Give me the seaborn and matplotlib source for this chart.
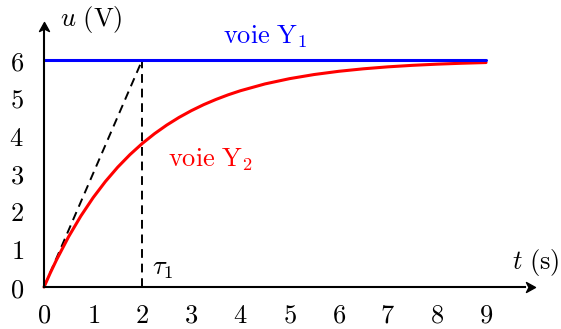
import numpy as np
import pandas as pd
import matplotlib
matplotlib.use("Agg")
import matplotlib.pyplot as plt
from matplotlib.path import Path
import seaborn as sns

# Time axis (s) and the two channel voltages (V)
t_values = [0, 0.125, 0.25, 0.5, 0.75, 1, 1.25, 1.5, 1.75, 2, 2.25, 2.5, 2.75, 3,
            3.25, 3.5, 3.75, 4, 4.5, 5, 5.5, 6, 6.5, 7, 7.5, 8, 8.5, 9]
y2_values = [0, 0.364, 0.705, 1.327, 1.876, 2.361, 2.788, 3.166, 3.499, 3.793, 4.052,
             4.281, 4.483, 4.661, 4.819, 4.957, 5.080, 5.188, 5.368, 5.507, 5.616,
             5.701, 5.767, 5.819, 5.859, 5.890, 5.914, 5.933]
y1_level = 6
tau = 2
x_ticks = list(range(0, 10))
y_ticks = list(range(0, 7))

sns.set_theme(style="white")
plt.rcParams["mathtext.fontset"] = "cm"
plt.rcParams["font.family"] = ["DejaVu Serif"]
plt.rcParams["text.color"] = "black"

fig = plt.figure(figsize=(5.61, 3.29), dpi=100)
ax = fig.add_axes([0, 0, 1, 1])
ax.set_xlim(-0.896, 10.527)
ax.set_ylim(-1.110, 7.586)

df = pd.DataFrame({"t": t_values, "u": y2_values})
df1 = pd.DataFrame({"t": [0, 9], "u": [y1_level, y1_level]})

# Tangent at the origin and the time constant marker
ax.plot([0, tau], [0, y1_level], color="black", lw=1.4, ls=(0, (4.5, 3)), zorder=2)
ax.plot([tau, tau], [0, y1_level], color="black", lw=1.4, ls=(0, (4.5, 3)), zorder=2)

sns.lineplot(data=df, x="t", y="u", color="#ff0000", lw=2.2, ax=ax, zorder=3)
sns.lineplot(data=df1, x="t", y="u", color="#0000ff", lw=2.2, ax=ax, zorder=4)

# Axes through the origin with ticks crossing them
for side in ["top", "right"]:
    ax.spines[side].set_visible(False)
ax.spines["left"].set_position(("data", 0))
ax.spines["bottom"].set_position(("data", 0))
ax.spines["left"].set_bounds(0, 6.8)
ax.spines["bottom"].set_bounds(0, 9.8)
for side in ["left", "bottom"]:
    ax.spines[side].set_color("black")
    ax.spines[side].set_linewidth(1.5)
    ax.spines[side].set_zorder(5)

ax.set_xticks(x_ticks)
ax.set_yticks(y_ticks)
ax.set_xticklabels([f"${v}$" for v in x_ticks])
ax.set_yticklabels([f"${v}$" for v in y_ticks])
ax.tick_params(axis="both", direction="inout", length=15, width=1.3, color="black",
               labelsize=19, labelcolor="black")
ax.tick_params(axis="x", pad=4)
ax.tick_params(axis="y", pad=7)
ax.set_xlabel("")
ax.set_ylabel("")

# Stealth-style arrow heads
verts = [(0, 0), (-1, 0.55), (-0.72, 0), (-1, -0.55), (0, 0)]
codes = [Path.MOVETO, Path.LINETO, Path.LINETO, Path.LINETO, Path.CLOSEPOLY]
head_right = Path(verts, codes)
head_up = Path([(-y, x) for x, y in verts], codes)
ax.plot([10.0], [0], marker=head_right, markersize=13, color="black", clip_on=False, zorder=6)
ax.plot([0], [7.0], marker=head_up, markersize=13, color="black", clip_on=False, zorder=6)

fs = 19
ax.text(0.33, 7.08, r"$u\ \mathrm{(V)}$", fontsize=fs, ha="left", va="center")
ax.text(10.5, 0.66, r"$t\ \mathrm{(s)}$", fontsize=fs, ha="right", va="center")
ax.text(2.2, 0.5, r"$\tau_1$", fontsize=fs, ha="left", va="center")
ax.text(4.5, 6.62, r"$\mathrm{voie\ Y_1}$", fontsize=fs, ha="center", va="center", color="#0000ff")
ax.text(2.52, 3.36, r"$\mathrm{voie\ Y_2}$", fontsize=fs, ha="left", va="center", color="#ff0000")

fig.savefig("out.png", dpi=100)
